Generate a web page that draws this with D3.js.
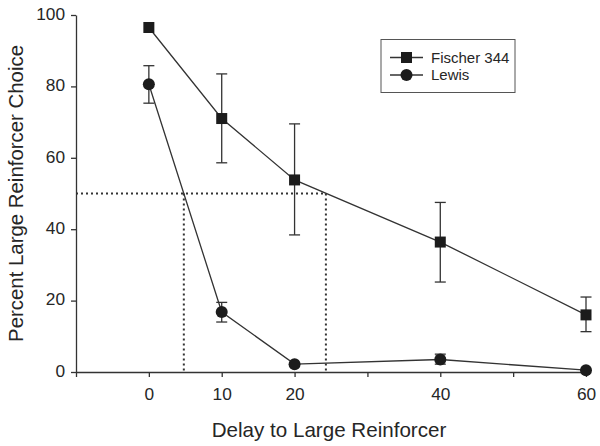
<!DOCTYPE html>
<html>
<head>
<meta charset="utf-8">
<script src="https://cdn.jsdelivr.net/npm/d3@7"></script>
<style>
  body { margin: 0; background: #fff; }
  svg text { font-family: "Liberation Sans", Arial, sans-serif; fill: #262626; }
</style>
</head>
<body>
<svg id="chart" width="600" height="446"></svg>
<script>
// delays (s)
const delays = [0, 10, 20, 40, 60];
// Fischer 344 mean and SEM bounds
const fischerMean = [96.5, 71.0, 53.8, 36.4, 16.0];
const fischerHigh = [96.5, 83.5, 69.5, 47.5, 21.0];
const fischerLow = [96.5, 58.6, 38.4, 25.2, 11.3];
// Lewis mean and SEM bounds
const lewisMean = [80.6, 16.8, 2.2, 3.5, 0.5];
const lewisHigh = [85.8, 19.5, 2.2, 5.0, 0.5];
const lewisLow = [75.3, 14.0, 2.2, 2.2, 0.5];
// delay at which choice crosses 50%
const indifference = [4.8, 24.3];
const criterion = 50;

const xTicks = [-10, 0, 10, 20, 30, 40, 50, 60];
const xLabels = [0, 10, 20, 40, 60];
const yTicks = [0, 20, 40, 60, 80, 100];

const svg = d3.select('#chart');
const ink = '#333';

const x = d3.scaleLinear().domain([-10, 60]).range([76, 586]);
const y = d3.scaleLinear().domain([0, 100]).range([372, 15]);

//坐标轴
const xAxis = svg.append('g')
  .attr('transform', `translate(0,${y(0)})`)
  .call(d3.axisBottom(x).tickValues(xTicks).tickSize(5).tickSizeOuter(0)
    .tickFormat(d => xLabels.includes(d) ? d : ''));
xAxis.select('.domain').attr('stroke', ink).attr('stroke-width', 1.3);
xAxis.selectAll('.tick line').attr('stroke', ink).attr('stroke-width', 1.3);
xAxis.selectAll('.tick text').attr('font-size', 17.3).attr('dy', '1.14em');

const yAxis = svg.append('g')
  .attr('transform', `translate(${x(-10)},0)`)
  .call(d3.axisLeft(y).tickValues(yTicks).tickSize(5).tickSizeOuter(0));
yAxis.select('.domain').attr('stroke', ink).attr('stroke-width', 1.3);
yAxis.selectAll('.tick line').attr('stroke', ink).attr('stroke-width', 1.3);
yAxis.selectAll('.tick text').attr('font-size', 17.3).attr('x', -11).attr('dy', '0.25em');

svg.append('text')
  .attr('x', (x.range()[0] + x.range()[1]) / 2 - 2).attr('y', 437)
  .attr('text-anchor', 'middle').attr('font-size', 20.6)
  .text('Delay to Large Reinforcer');

svg.append('text')
  .attr('transform', `translate(23,${y(50)}) rotate(-90)`)
  .attr('text-anchor', 'middle').attr('font-size', 20.4)
  .text('Percent Large Reinforcer Choice');

//虚线
const dots = svg.append('g').attr('stroke', ink).attr('stroke-width', 2)
  .attr('stroke-dasharray', '2,3').attr('fill', 'none');
dots.append('line')
  .attr('x1', x(-10)).attr('x2', x(d3.max(indifference)))
  .attr('y1', y(criterion)).attr('y2', y(criterion));
dots.selectAll('line.v').data(indifference).enter().append('line')
  .attr('class', 'v')
  .attr('x1', d => x(d)).attr('x2', d => x(d))
  .attr('y1', y(criterion)).attr('y2', y(0));

const series = [
  { name: 'Fischer 344', mean: fischerMean, hi: fischerHigh, lo: fischerLow, shape: 'square' },
  { name: 'Lewis', mean: lewisMean, hi: lewisHigh, lo: lewisLow, shape: 'circle' },
];

const line = d3.line().x(d => x(d[0])).y(d => y(d[1]));

function marker(g, shape) {
  if (shape === 'square') {
    g.append('rect').attr('x', -5.5).attr('y', -5.5).attr('width', 11).attr('height', 11)
      .attr('fill', '#1c1c1c');
  } else {
    g.append('circle').attr('r', 6).attr('fill', '#1c1c1c');
  }
}

for (const s of series) {
  const pts = delays.map((d, i) => [d, s.mean[i], s.hi[i], s.lo[i]]);
  const g = svg.append('g');
  g.append('path').datum(pts).attr('d', line)
    .attr('fill', 'none').attr('stroke', ink).attr('stroke-width', 1.3);

  //误差线
  const err = g.selectAll('g.err').data(pts.filter(p => p[2] - p[3] > 0.5)).enter()
    .append('g').attr('class', 'err').attr('stroke', ink).attr('stroke-width', 1.3);
  err.append('line').attr('x1', d => x(d[0])).attr('x2', d => x(d[0]))
    .attr('y1', d => y(d[2])).attr('y2', d => y(d[3]));
  err.append('line').attr('x1', d => x(d[0]) - 5.5).attr('x2', d => x(d[0]) + 5.5)
    .attr('y1', d => y(d[2])).attr('y2', d => y(d[2]));
  err.append('line').attr('x1', d => x(d[0]) - 5.5).attr('x2', d => x(d[0]) + 5.5)
    .attr('y1', d => y(d[3])).attr('y2', d => y(d[3]));

  g.selectAll('g.pt').data(pts).enter().append('g').attr('class', 'pt')
    .attr('transform', d => `translate(${x(d[0])},${y(d[1])})`)
    .each(function () { marker(d3.select(this), s.shape); });
}

//图例
const legend = svg.append('g').attr('transform', 'translate(381,39.5)');
legend.append('rect').attr('width', 134).attr('height', 53)
  .attr('fill', '#fff').attr('stroke', '#555').attr('stroke-width', 1);
series.forEach((s, i) => {
  const row = legend.append('g').attr('transform', `translate(0,${18 + i * 17.5})`);
  row.append('line').attr('x1', 9).attr('x2', 42).attr('stroke', ink).attr('stroke-width', 1.3);
  const m = row.append('g').attr('transform', 'translate(25.5,0)');
  marker(m, s.shape);
  row.append('text').attr('x', 50).attr('dy', '0.36em').attr('font-size', 15).text(s.name);
});
</script>
</body>
</html>
